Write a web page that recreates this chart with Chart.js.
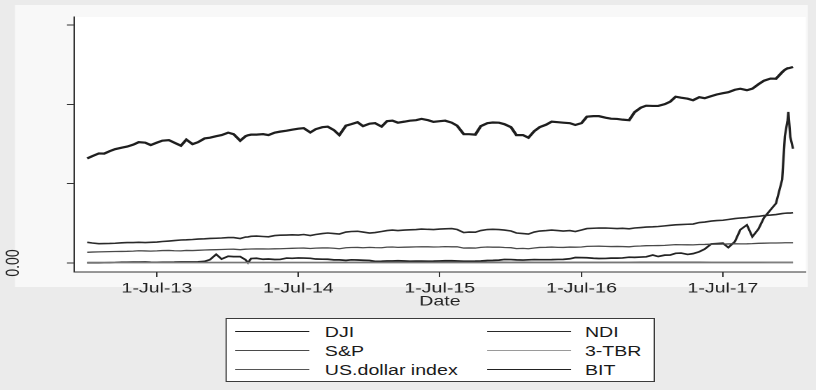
<!DOCTYPE html>
<html>
<head>
<meta charset="utf-8">
<title>Index levels, 2013–2017</title>
<script src="https://cdn.jsdelivr.net/npm/chart.js@4.4.1/dist/chart.umd.min.js"></script>
<style>
  html, body { margin: 0; padding: 0; width: 816px; height: 390px; overflow: hidden; background: #ebebeb; }
  /* the graph is laid out on a narrower stage and widened horizontally */
  #stage { position: absolute; left: 0; top: 0; width: 583px; height: 390px; transform: scaleX(1.39966); transform-origin: 0 0; }
  #chart { position: absolute; left: 0; top: 0; }
  #legend { position: absolute; left: 161.4px; top: 318px; width: 306.5px; height: 64px; box-sizing: border-box;
            background: #ffffff; border: 1px solid #3a3a3a; font: 14px "Liberation Sans", Arial, Helvetica, sans-serif; color: #1a1a1a; }
  .key-line { position: absolute; height: 0; }
  .key-text { position: absolute; height: 16px; line-height: 16px; white-space: nowrap; }
</style>
</head>
<body>
<div id="stage">
  <canvas id="chart" width="583" height="390"></canvas>
  <div id="legend"></div>
</div>
<script>
// Observation dates (roughly twice a month) shared by DJI, NDI, S&P and BIT
const dates = [
  '2013-01-02','2013-01-15','2013-02-01','2013-02-15','2013-03-01','2013-03-15','2013-04-01','2013-04-15','2013-05-01','2013-05-15','2013-06-01','2013-06-15',
  '2013-07-01','2013-07-15','2013-08-01','2013-08-15','2013-09-01','2013-09-15','2013-10-01','2013-10-15','2013-11-01','2013-11-15','2013-12-01','2013-12-15',
  '2014-01-01','2014-01-15','2014-02-01','2014-02-15','2014-02-21','2014-03-01','2014-03-15','2014-04-01','2014-04-15','2014-05-01','2014-05-15','2014-06-01','2014-06-15',
  '2014-07-01','2014-07-15','2014-08-01','2014-08-15','2014-09-01','2014-09-15','2014-10-01','2014-10-15','2014-11-01','2014-11-15','2014-12-01','2014-12-15',
  '2015-01-01','2015-01-15','2015-02-01','2015-02-15','2015-03-01','2015-03-15','2015-04-01','2015-04-15','2015-05-01','2015-05-15','2015-06-01','2015-06-15',
  '2015-07-01','2015-07-15','2015-08-01','2015-08-15','2015-09-01','2015-09-15','2015-10-01','2015-10-15','2015-11-01','2015-11-15','2015-12-01','2015-12-15',
  '2016-01-01','2016-01-15','2016-02-01','2016-02-15','2016-03-01','2016-03-15','2016-04-01','2016-04-15','2016-05-01','2016-05-15','2016-06-01','2016-06-15',
  '2016-07-01','2016-07-15','2016-08-01','2016-08-15','2016-09-01','2016-09-15','2016-10-01','2016-10-15','2016-11-01','2016-11-15','2016-12-01','2016-12-15',
  '2017-01-01','2017-01-15','2017-02-01','2017-02-15','2017-03-01','2017-03-15','2017-04-01','2017-04-15','2017-05-01','2017-05-15','2017-06-01','2017-06-15',
  '2017-07-01','2017-07-15','2017-08-01','2017-08-15','2017-09-01','2017-09-15','2017-10-01','2017-10-15','2017-11-01','2017-11-15',
  '2017-12-01','2017-12-08','2017-12-15','2017-12-17','2017-12-22','2017-12-29'
];

const djiValues = [
  13180,13470,13810,13790,14100,14350,14540,14670,14920,15230,15170,14860,
  15170,15420,15490,15170,14790,15550,14980,15230,15700,15800,15990,16120,
  16430,16240,15420,15990,16100,16180,16180,16240,16120,16430,16560,16680,16810,
  16930,17000,16460,16870,17120,17190,16750,16120,17310,17500,17750,17250,
  17560,17630,17190,17880,17940,17690,17820,17940,18000,18170,18000,17790,
  17880,17940,17690,17310,16240,16240,16180,17250,17630,17710,17690,17500,
  17120,16120,16120,15800,16620,17120,17440,17820,17750,17690,17630,17400,
  17630,18440,18510,18510,18320,18190,18160,18070,18000,19010,19580,19830,
  19800,19800,20020,20330,20960,20840,20710,20520,20900,20770,21030,21240,
  21400,21530,21840,21970,21780,21970,22540,22980,23250,23230,
  24050,24360,24550,24550,24610,24710
];

const ndiValues = [
  2610,2520,2440,2450,2460,2490,2540,2580,2580,2610,2580,2610,
  2640,2710,2770,2830,2900,2920,2960,3020,3050,3090,3120,3150,
  3210,3210,3085,3270,3290,3360,3400,3340,3300,3460,3500,3525,3550,
  3525,3590,3460,3590,3710,3780,3710,3650,3900,3970,4000,3900,
  3780,3840,3970,4090,4155,4090,4155,4180,4220,4280,4240,4220,
  4280,4310,4340,4220,3840,3900,3880,4090,4220,4240,4220,4155,
  4030,3780,3710,3650,3900,4030,4090,4155,4090,4030,4090,3970,
  4155,4340,4380,4410,4410,4380,4340,4370,4310,4410,4470,4530,
  4560,4600,4680,4750,4810,4850,4885,4910,5100,5160,5290,5350,
  5390,5480,5600,5670,5730,5820,5880,5980,6040,6110,
  6230,6270,6295,6295,6295,6333
];

const spValues = [
  1347,1380,1400,1420,1430,1450,1460,1470,1500,1540,1520,1500,
  1530,1570,1580,1540,1530,1580,1570,1600,1640,1660,1680,1700,
  1730,1740,1680,1740,1750,1760,1770,1780,1760,1790,1800,1830,1850,
  1870,1880,1830,1870,1900,1910,1860,1800,1920,1950,1960,1920,
  1970,1940,1920,2000,2020,1970,1990,2010,2030,2050,2040,2020,
  2030,2060,2040,2050,1880,1900,1880,1970,2020,1990,2000,1950,
  1930,1810,1840,1800,1890,1960,1980,2010,1970,1960,2010,1990,
  2020,2100,2110,2120,2100,2070,2090,2070,2040,2110,2140,2180,
  2190,2200,2220,2270,2320,2300,2290,2280,2330,2340,2370,2370,
  2380,2400,2420,2410,2420,2440,2480,2500,2520,2520,
  2540,2550,2550,2555,2555,2556
];

const bitValues = [
  13,14,20,26,34,47,93,90,116,115,122,100,
  88,98,105,110,130,127,125,150,205,420,1095,500,
  850,800,800,400,20,560,600,470,500,440,450,620,590,
  640,620,590,500,480,470,390,390,330,400,380,350,
  320,210,230,260,260,290,250,220,235,237,225,235,
  260,285,280,260,230,230,237,255,315,330,360,450,
  430,390,370,400,430,415,415,425,450,455,535,690,
  675,665,600,570,575,610,610,640,730,710,750,780,
  1000,820,990,1010,1220,1250,1080,1180,1420,1750,2400,2450,
  2500,1950,2700,4200,4800,3300,4300,5700,6700,7500,
  10500,16000,18000,19050,15900,14400
];

// Monthly observations for the two series that stay close to zero
const monthDates = [
  '2013-01-02','2013-02-01','2013-03-01','2013-04-01','2013-05-01','2013-06-01','2013-07-01','2013-08-01','2013-09-01','2013-10-01','2013-11-01','2013-12-01',
  '2014-01-01','2014-02-01','2014-03-01','2014-04-01','2014-05-01','2014-06-01','2014-07-01','2014-08-01','2014-09-01','2014-10-01','2014-11-01','2014-12-01',
  '2015-01-01','2015-02-01','2015-03-01','2015-04-01','2015-05-01','2015-06-01','2015-07-01','2015-08-01','2015-09-01','2015-10-01','2015-11-01','2015-12-01',
  '2016-01-01','2016-02-01','2016-03-01','2016-04-01','2016-05-01','2016-06-01','2016-07-01','2016-08-01','2016-09-01','2016-10-01','2016-11-01','2016-12-01',
  '2017-01-01','2017-02-01','2017-03-01','2017-04-01','2017-05-01','2017-06-01','2017-07-01','2017-08-01','2017-09-01','2017-10-01','2017-11-01','2017-12-01',
  '2017-12-29'
];

const usdValues = [
  79.8,79.6,81.5,82.4,82.0,83.3,83.2,81.6,82.0,80.2,80.4,80.8,
  80.0,81.3,80.2,80.1,79.5,80.4,80.0,81.5,82.8,86.0,86.8,87.7,
  90.3,94.6,94.8,98.4,95.0,96.9,95.5,97.2,96.0,96.3,96.9,99.8,
  98.7,99.6,98.2,94.6,93.1,95.4,96.1,95.6,95.9,95.4,98.2,101.5,
  102.2,99.8,101.6,100.4,99.1,97.0,95.6,93.0,92.8,93.1,94.6,93.2,
  92.1
];

const tbrValues = [
  0.07,0.08,0.11,0.08,0.05,0.04,0.04,0.04,0.03,0.02,0.10,0.07,
  0.08,0.04,0.05,0.05,0.03,0.03,0.03,0.03,0.03,0.02,0.02,0.02,
  0.04,0.02,0.02,0.03,0.01,0.01,0.01,0.07,0.03,0.01,0.08,0.22,
  0.22,0.33,0.33,0.22,0.26,0.28,0.27,0.28,0.33,0.28,0.34,0.46,
  0.51,0.52,0.74,0.78,0.79,0.96,1.02,1.05,1.01,1.03,1.12,1.27,
  1.39
];

// Axis ticks
const xTickDates  = ['2013-07-01','2014-07-01','2015-07-01','2016-07-01','2017-07-01'];
const xTickLabels = ['1-Jul-13','1-Jul-14','1-Jul-15','1-Jul-16','1-Jul-17'];
const yTickValues = [0, 10000, 20000, 30000];
const yTickLabels = ['0.00', '', '', ''];

const FONT = '"Liberation Sans", Arial, Helvetica, sans-serif';
Chart.defaults.font.family = FONT;

const dayNumber = s => Date.parse(s) / 86400000;
const toPoints = (xs, ys) => xs.map((d, i) => ({ x: dayNumber(d), y: ys[i] }));

// Light panel behind the plot, white inside the axes
const panelBackground = {
  id: 'panelBackground',
  beforeDraw(chart) {
    const { ctx, chartArea: a } = chart;
    ctx.save();
    ctx.fillStyle = '#f8f8f8';
    ctx.fillRect(10.7, 5, 566.4, 282);
    ctx.fillStyle = '#ffffff';
    ctx.fillRect(a.left, a.top, a.right - a.left, a.bottom - a.top);
    ctx.restore();
  }
};

// Two-column boxed key under the plot
const boxedKey = {
  id: 'boxedKey',
  afterUpdate(chart) {
    const box = document.getElementById('legend');
    box.innerHTML = '';
    const items = chart.options.plugins.legend.labels.generateLabels(chart);
    const rowCenters = [13, 32, 51];
    const cols = [
      { lineLeft: 5.5, lineWidth: 53.5, textLeft: 69.7 },
      { lineLeft: 185.2, lineWidth: 60.8, textLeft: 255.5 }
    ];
    items.forEach((item, i) => {
      const c = cols[i % 2];
      const yc = rowCenters[Math.floor(i / 2)];
      const w = Math.min(item.lineWidth, 1.4);
      const line = document.createElement('div');
      line.className = 'key-line';
      line.style.left = c.lineLeft + 'px';
      line.style.width = c.lineWidth + 'px';
      line.style.top = (yc - w / 2) + 'px';
      line.style.borderTop = w + 'px solid ' + item.strokeStyle;
      const text = document.createElement('div');
      text.className = 'key-text';
      text.style.left = c.textLeft + 'px';
      text.style.top = (yc - 8) + 'px';
      text.textContent = item.text;
      box.appendChild(line);
      box.appendChild(text);
    });
  }
};

const line = (label, data, color, width) => ({
  label, data, borderColor: color, backgroundColor: color, borderWidth: width,
  pointRadius: 0, tension: 0, fill: false
});

new Chart(document.getElementById('chart'), {
  type: 'line',
  data: {
    datasets: [
      line('DJI', toPoints(dates, djiValues), '#1e1e1e', 2.2),
      line('NDI', toPoints(dates, ndiValues), '#2a2a2a', 1.6),
      line('S&P', toPoints(dates, spValues), '#4a4a4a', 1.3),
      line('3-TBR', toPoints(monthDates, tbrValues), '#9a9a9a', 1.1),
      line('US.dollar index', toPoints(monthDates, usdValues), '#555555', 1.3),
      line('BIT', toPoints(dates, bitValues), '#222222', 1.7)
    ]
  },
  options: {
    responsive: false,
    devicePixelRatio: 2,
    animation: false,
    layout: { padding: { left: 0, right: 7.3, top: 17, bottom: 80 } },
    plugins: {
      legend: { display: false },
      tooltip: { enabled: false }
    },
    scales: {
      x: {
        type: 'linear',
        bounds: 'data',
        min: dayNumber('2012-11-29'),
        max: dayNumber('2018-01-31'),
        afterBuildTicks: s => { s.ticks = xTickDates.map(d => ({ value: dayNumber(d) })); },
        afterFit: s => { s.height = 38; s.paddingLeft = 0; s.paddingRight = 0; },
        ticks: {
          callback: (v, i) => xTickLabels[i],
          autoSkip: false, maxRotation: 0, padding: 3,
          font: { size: 14 }, color: '#222222'
        },
        grid: { drawOnChartArea: false, drawTicks: true, tickLength: 5, color: '#333333', lineWidth: 1 },
        border: { display: true, color: '#333333', width: 1 },
        title: { display: true, text: 'Date', font: { size: 14 }, color: '#222222', padding: { top: 0, bottom: 0 } }
      },
      y: {
        type: 'linear',
        bounds: 'data',
        min: -1135,
        max: 31010,
        afterBuildTicks: s => { s.ticks = yTickValues.map(v => ({ value: v })); },
        afterFit: s => { s.width = 52.86; s.paddingTop = 0; s.paddingBottom = 0; },
        ticks: {
          callback: (v, i) => yTickLabels[i],
          autoSkip: false, minRotation: 90, maxRotation: 90, crossAlign: 'center', padding: 24.5,
          font: { size: 14 }, color: '#222222'
        },
        grid: { drawOnChartArea: false, drawTicks: true, tickLength: 5, color: '#333333', lineWidth: 1 },
        border: { display: true, color: '#333333', width: 1 }
      }
    }
  },
  plugins: [panelBackground, boxedKey]
});
</script>
</body>
</html>
